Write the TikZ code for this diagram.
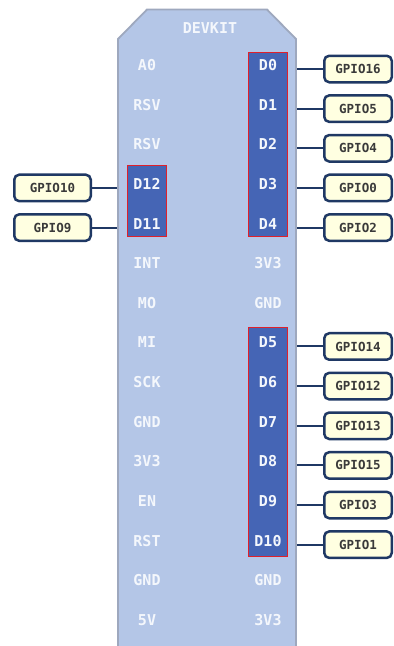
\documentclass[tikz,border=0pt]{standalone}
\usepackage{fontspec}
\setmonofont{DejaVu Sans Mono}
\definecolor{boardfill}{HTML}{B4C6E7}
\definecolor{boardline}{HTML}{9EA8BE}
\definecolor{pinblue}{HTML}{4565B5}
\definecolor{pinred}{HTML}{E0202A}
\definecolor{navy}{HTML}{1F3864}
\definecolor{gpiofill}{HTML}{FFFFE1}
\definecolor{gpiotext}{HTML}{3A3A3A}
\definecolor{pintext}{HTML}{F4F7FC}
\tikzset{
  pinlabel/.style={text=pintext, font=\ttfamily\bfseries\fontsize{15}{15}\selectfont, inner sep=0pt},
  gpiobox/.style={draw=navy, line width=2.5pt, fill=gpiofill, rounded corners=5pt,
    minimum height=26.5pt, inner sep=0pt, text=gpiotext,
    font=\ttfamily\bfseries\fontsize{12.5}{12.5}\selectfont},
  rgpio/.style={gpiobox, minimum width=67.5pt},
  lgpio/.style={gpiobox, minimum width=76.5pt},
  pinbank/.style={fill=pinblue, draw=pinred, line width=1.6pt},
  wire/.style={draw=navy, line width=2pt},
}
\begin{document}
\begin{tikzpicture}[x=1pt,y=-1pt]
\useasboundingbox (0,0) rectangle (394,646);
\begin{scope}
\clip (0,0) rectangle (394,646);
% board
\draw[fill=boardfill, draw=boardline, line width=1.8pt]
  (118,660) -- (118,39) -- (147,9.5) -- (267,9.5) -- (296,39) -- (296,660) -- cycle;
\end{scope}
% pin banks
\draw[pinbank] (248.5,52.5) rectangle (287.5,236.5);
\draw[pinbank] (248.5,327.5) rectangle (287.5,556.5);
\draw[pinbank] (127.5,165.5) rectangle (166.5,236.5);
% title
\node[pinlabel] (title) at (210,28.5) {DEVKIT};
% left pin labels
\foreach \t [count=\i from 0] in {A0,RSV,RSV,D12,D11,INT,MO,MI,SCK,GND,3V3,EN,RST,GND,5V}
  \node[pinlabel] (L\i) at (147,65+39.64*\i) {\t};
% right pin labels
\foreach \t [count=\i from 0] in {D0,D1,D2,D3,D4,3V3,GND,D5,D6,D7,D8,D9,D10,GND,3V3}
  \node[pinlabel] (R\i) at (268,65+39.64*\i) {\t};
% right GPIO boxes
\foreach \i/\g in {0/GPIO16,1/GPIO5,2/GPIO4,3/GPIO0,4/GPIO2,7/GPIO14,8/GPIO12,9/GPIO13,10/GPIO15,11/GPIO3,12/GPIO1} {
  \node[rgpio] (G\i) at (358,69+39.64*\i) {\g};
  \coordinate (E\i) at (297,69+39.64*\i);
  \draw[wire] (E\i) -- (G\i.west);
}
% left GPIO boxes
\foreach \i/\g in {3/GPIO10,4/GPIO9} {
  \node[lgpio] (G\i) at (52.5,69+39.64*\i) {\g};
  \coordinate (E\i) at (117,69+39.64*\i);
  \draw[wire] (G\i.east) -- (E\i);
}
\end{tikzpicture}
\end{document}
